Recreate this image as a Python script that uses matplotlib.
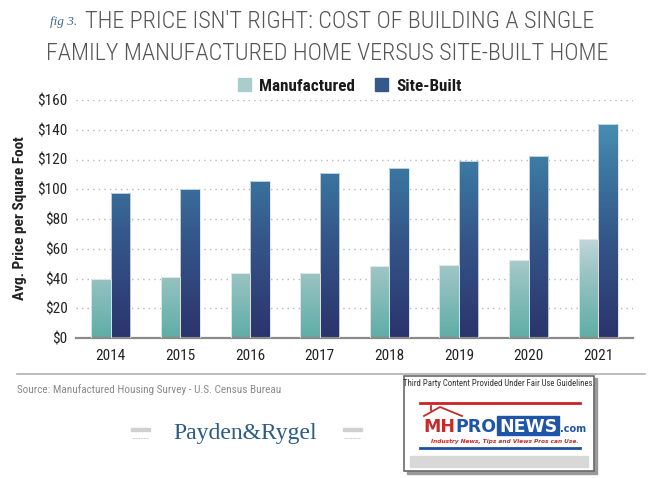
import numpy as np
import matplotlib
matplotlib.use("Agg")
import matplotlib.pyplot as plt
from matplotlib import font_manager
from matplotlib.colors import LinearSegmentedColormap
from matplotlib.patches import Rectangle

years = ["2014", "2015", "2016", "2017", "2018", "2019", "2020", "2021"]
manufactured = [40.0, 41.2, 43.4, 43.8, 48.5, 49.2, 52.3, 66.4]
site_built = [97.3, 100.0, 105.4, 111.2, 114.3, 119.0, 122.1, 143.8]
yticks = [0, 20, 40, 60, 80, 100, 120, 140, 160]
ytick_labels = ["$" + str(v) for v in yticks]
series_names = ["Manufactured", "Site-Built"]

avail = {f.name for f in font_manager.fontManager.ttflist}
def pick(*names):
    for n in names:
        if n in avail:
            return n
    return "DejaVu Sans"
COND = pick("Liberation Sans Narrow", "Roboto Condensed", "Open Sans Condensed", "DejaVu Sans Condensed", "Liberation Sans")
SERIF = pick("Liberation Serif", "DejaVu Serif")
LOGO = pick("DejaVu Sans Condensed", "DejaVu Sans")
plt.rcParams["font.family"] = [COND, "DejaVu Sans"]

W, H = 661, 478
fig = plt.figure(figsize=(W / 100, H / 100), dpi=100)
fig.patch.set_facecolor("white")

def fx(px):
    return px / W
def fy(py):
    return 1 - py / H

ax = fig.add_axes([fx(76), fy(338), fx(633) - fx(76), fy(100) - fy(338)])
x = np.arange(len(years))
bw = 0.28
b1 = ax.bar(x - bw / 2, manufactured, bw, color="#8fbfbd", edgecolor="#e8f0f0", linewidth=0.6, zorder=2)
b2 = ax.bar(x + bw / 2, site_built, bw, color="#35578a", edgecolor="#d8e0ea", linewidth=0.6, zorder=2)

cm_m = LinearSegmentedColormap.from_list("m", [(0, "#5fada6"), (0.3, "#9cc5c4"), (0.46, "#c6d9dc"), (1, "#dbe8ea")])
cm_s = LinearSegmentedColormap.from_list("s", [(0, "#2b346c"), (0.45, "#34578a"), (0.75, "#3b76a0"), (1, "#4a92b6")])
VMAX = 150.0

def gradient(bars, cmap):
    for b in bars:
        x0, y0 = b.get_x(), b.get_y()
        w, h = b.get_width(), b.get_height()
        g = np.linspace(0, h / VMAX, 256).reshape(-1, 1)
        im = ax.imshow(g, cmap=cmap, vmin=0, vmax=1, aspect="auto", origin="lower",
                       extent=[x0, x0 + w, y0, y0 + h], zorder=2.5, interpolation="bilinear")
        im.set_clip_path(b)

gradient(b1, cm_m)
gradient(b2, cm_s)
for b in list(b1) + list(b2):
    b.set_facecolor("none")
    b.set_zorder(3)

ax.set_xlim(-0.5, len(years) - 0.5)
ax.set_ylim(0, 160)
ax.set_yticks(yticks)
ax.set_yticklabels(ytick_labels)
ax.set_xticks(x)
ax.set_xticklabels(years)
ax.tick_params(axis="both", length=0, labelsize=11, colors="#222222")
ax.tick_params(axis="y", pad=6)
ax.tick_params(axis="x", pad=8)
for s in ["top", "right", "left"]:
    ax.spines[s].set_visible(False)
ax.spines["bottom"].set_color("#8a8a8a")
ax.spines["bottom"].set_linewidth(1.6)
ax.grid(axis="y", linestyle=(0, (1, 3)), color="#b8b8b8", linewidth=1.0, zorder=0)
ax.set_axisbelow(True)
ax.set_ylabel("Avg. Price per Square Foot", fontsize=11, fontweight="bold", color="#222222", labelpad=3)
ax.yaxis.set_label_coords(-(76 - 27) / (633 - 76), (338 - 218) / (338 - 100))

# legend
leg_handles = [Rectangle((0, 0), 1, 1, color="#a8cdcc"), Rectangle((0, 0), 1, 1, color="#36588a")]
leg = fig.legend(leg_handles, series_names, loc="center", bbox_to_anchor=(fx(350), fy(86)), ncol=2,
                 frameon=False, handlelength=0.75, handleheight=0.75, handletextpad=0.5, columnspacing=1.2,
                 prop={"family": COND, "weight": "bold", "size": 12.3})
for t in leg.get_texts():
    t.set_color("#1a1a1a")

# title
fig.text(fx(50), fy(22), "fig 3.", fontsize=9.5, style="italic", family=SERIF, color="#3d6a8c", va="center", ha="left")
fig.text(fx(85), fy(21), "THE PRICE ISN'T RIGHT: COST OF BUILDING A SINGLE", fontsize=17.4, color="#555555",
         va="center", ha="left", fontweight="light")
fig.text(fx(327), fy(53), "FAMILY MANUFACTURED HOME VERSUS SITE-BUILT HOME", fontsize=17.4, color="#555555",
         va="center", ha="center", fontweight="light")

# footer rule and source
fig.add_artist(plt.Line2D([fx(17), fx(645)], [fy(374), fy(374)], color="#b0b0b0", linewidth=1.2))
fig.text(fx(17), fy(390), "Source: Manufactured Housing Survey - U.S. Census Bureau", fontsize=8.1,
         color="#8a8a8a", va="center", ha="left")

# Payden & Rygel logo
fig.text(fx(245), fy(433), "Payden&Rygel", fontsize=17, family=SERIF, color="#2a5b85", va="center", ha="center")
for xa in (131, 343):
    fig.add_artist(Rectangle((fx(xa), fy(431)), fx(19), 3.5 / H, color="#d0d0d0", transform=fig.transFigure))
    fig.add_artist(plt.Line2D([fx(xa + 1), fx(xa + 17)], [fy(438), fy(438)], color="#b0b0b0",
                              linewidth=0.6, linestyle=(0, (1, 1))))

# MHPRONEWS box
fig.add_artist(Rectangle((fx(407), fy(474)), fx(190), 96 / H, color="#9a9a9a", transform=fig.transFigure, zorder=1))
fig.add_artist(Rectangle((fx(404), fy(471)), fx(190), 95 / H, facecolor="white", edgecolor="#6a6a6a",
                         linewidth=1.2, transform=fig.transFigure, zorder=2))
fig.add_artist(Rectangle((fx(410), fy(467)), fx(178), 11 / H, color="#d8d8d8", transform=fig.transFigure, zorder=3))
fig.text(fx(499), fy(384), "Third Party Content Provided Under Fair Use Guidelines.", fontsize=6.3,
         color="#333333", ha="center", va="center", zorder=4)
fig.add_artist(plt.Line2D([fx(420), fx(580)], [fy(403), fy(403)], color="#cc2222", linewidth=2, zorder=4))
fig.add_artist(plt.Line2D([fx(420), fx(580)], [fy(448), fy(448)], color="#1f4fa0", linewidth=2, zorder=4))
# roof
fig.add_artist(plt.Line2D([fx(424), fx(440), fx(462)], [fy(416), fy(407), fy(416)], color="#c62a2a",
                          linewidth=1.3, zorder=4))
fig.add_artist(plt.Line2D([fx(431), fx(431)], [fy(410), fy(406)], color="#c62a2a", linewidth=1.3, zorder=4))

r = fig.canvas.get_renderer()
base = fy(432)
xp = 423.0
def seg(txt, col, size=12.5):
    global xp
    t = fig.text(fx(xp), base, txt, fontsize=size, fontweight="bold", color=col, family=LOGO,
                 ha="left", va="baseline", zorder=6)
    w = t.get_window_extent(r).width
    return t, w
t, w = seg("MH", "#c62a2a")
xp += w
t, w = seg("PRO", "#1f55a8")
xp += w + 2
news_x0 = xp - 1
t, w = seg("NEWS", "white")
news_w = max(w + 4, 557 - news_x0)
t.set_x(fx(news_x0 + (news_w - w) / 2))
fig.add_artist(Rectangle((fx(news_x0), fy(435)), fx(news_w), 19 / H, color="#1f55a8",
                         transform=fig.transFigure, zorder=5))
xp = news_x0 + news_w + 1
fig.text(fx(xp), base, ".com", fontsize=7, fontweight="bold", color="#1f55a8", family="DejaVu Sans",
         ha="left", va="baseline", zorder=6)
fig.text(fx(505), fy(441), "Industry News, Tips and Views Pros can Use.", fontsize=4.2, style="italic",
         fontweight="bold", color="#c62a2a", family="DejaVu Sans", ha="center", va="center", zorder=5)

fig.savefig("out.png", dpi=100, facecolor="white")
